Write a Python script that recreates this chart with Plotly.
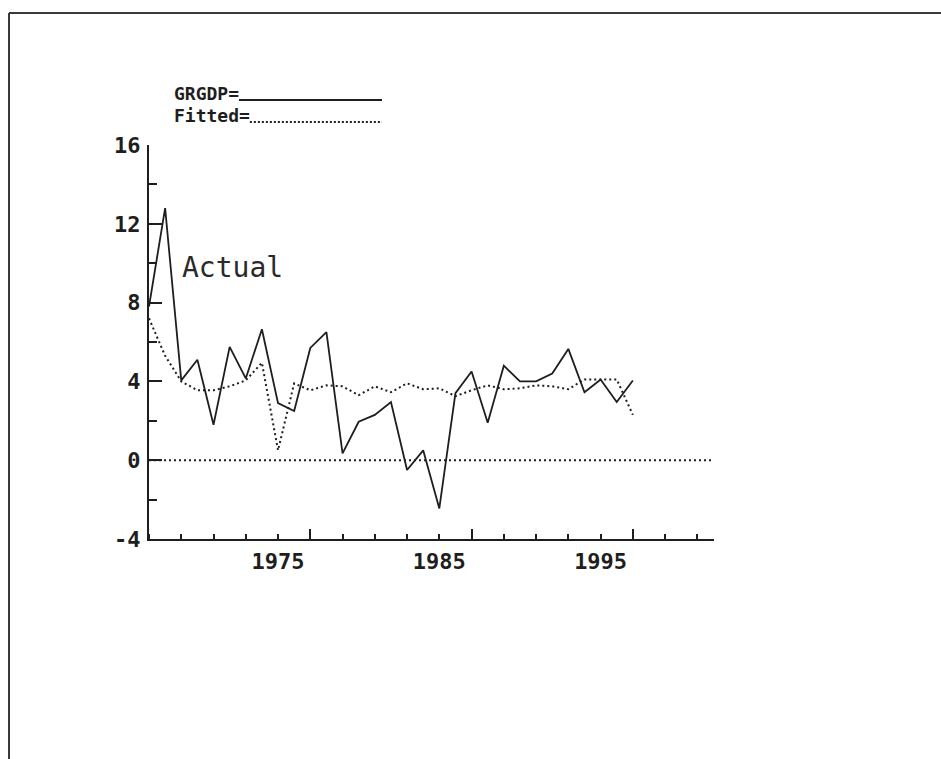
import plotly.graph_objects as go

# Annual observations
years = list(range(1967, 1998))

# GRGDP: actual real GDP growth (%)
grgdp = [7.8, 12.8, 4.05, 5.1, 1.8, 5.75, 4.15, 6.65, 2.9, 2.5,
         5.7, 6.5, 0.35, 1.95, 2.3, 2.95, -0.5, 0.5, -2.45, 3.4,
         4.5, 1.9, 4.8, 4.0, 4.0, 4.4, 5.65, 3.45, 4.1, 2.95, 4.05]

# Fitted values from the estimated equation
fitted = [7.2, 5.3, 4.0, 3.55, 3.55, 3.75, 4.05, 4.95, 0.5, 3.9,
          3.55, 3.8, 3.75, 3.3, 3.75, 3.45, 3.9, 3.6, 3.65, 3.25,
          3.55, 3.8, 3.6, 3.65, 3.8, 3.75, 3.6, 4.1, 4.1, 4.1, 2.3]

x_labels = [1975, 1985, 1995]
x_major = [1977, 1987, 1997]
x_range = [1967, 2002.03]
y_ticks = [-4, 0, 4, 8, 12, 16]
y_ticktext = ["-4", "0", "4", "8", "12", "16"]
y_range = [-4, 16]

INK = "#1e1e1e"
MONO = "DejaVu Sans Mono"

# page geometry (pixels) of the plotting area
W_PAGE, H_PAGE = 941, 759
L, R, T, B = 149, 714, 145, 539


def px(x):
    return (x - L) / (R - L)


def py(y):
    return (B - y) / (B - T)


fig = go.Figure()

fig.add_trace(go.Scatter(
    x=years, y=grgdp, mode="lines", name="GRGDP",
    line=dict(color=INK, width=1.8), hoverinfo="skip",
))
fig.add_trace(go.Scatter(
    x=years, y=fitted, mode="lines", name="Fitted",
    line=dict(color=INK, width=2, dash="2px,3px"), hoverinfo="skip",
))
# dotted zero reference line across the full axis
fig.add_trace(go.Scatter(
    x=x_range, y=[0, 0], mode="lines", xaxis="x2",
    line=dict(color=INK, width=2, dash="2px,3px"), hoverinfo="skip",
))

KEY_FONT = dict(family=MONO, size=18, color=INK, weight="bold")
KEY_LEFT = 172
CHAR_W = 0.602 * KEY_FONT["size"]

shapes = [
    # outer frame: top and left edges
    dict(type="line", xref="paper", yref="paper",
         x0=px(9), x1=px(W_PAGE + 5), y0=py(13), y1=py(13),
         line=dict(color="#3a3a3a", width=2)),
    dict(type="line", xref="paper", yref="paper",
         x0=px(9), x1=px(9), y0=py(13), y1=py(H_PAGE + 5),
         line=dict(color="#3a3a3a", width=2)),
    # key lines, starting right after each key text
    dict(type="line", xref="paper", yref="paper",
         x0=px(KEY_LEFT + 6 * CHAR_W + 2), x1=px(382), y0=py(100), y1=py(100),
         line=dict(color=INK, width=1.8)),
    dict(type="line", xref="paper", yref="paper",
         x0=px(KEY_LEFT + 7 * CHAR_W + 2), x1=px(382), y0=py(122), y1=py(122),
         line=dict(color=INK, width=2, dash="2px,2px")),
]

annotations = [
    dict(text="GRGDP=", xref="paper", yref="paper", x=px(KEY_LEFT), y=py(93),
         xanchor="left", yanchor="middle", showarrow=False, font=KEY_FONT),
    dict(text="Fitted=", xref="paper", yref="paper", x=px(KEY_LEFT), y=py(115),
         xanchor="left", yanchor="middle", showarrow=False, font=KEY_FONT),
    dict(text="Actual", xref="x", yref="y", x=1968.95, y=9.8,
         xanchor="left", yanchor="middle", showarrow=False,
         font=dict(family=MONO, size=28, color="#2a2a2a")),
]

TICK_FONT = dict(family=MONO, size=22, color=INK, weight="bold")

fig.update_layout(
    width=W_PAGE, height=H_PAGE,
    margin=dict(l=L, r=W_PAGE - R, t=T, b=H_PAGE - B, pad=0),
    paper_bgcolor="white", plot_bgcolor="white",
    showlegend=False,
    shapes=shapes, annotations=annotations,
    xaxis=dict(
        range=x_range, tickmode="array", tickvals=x_labels,
        ticks="", showline=True, linecolor=INK, linewidth=2,
        showgrid=False, zeroline=False, fixedrange=True,
        tickfont=TICK_FONT, ticklabelstandoff=2,
        minor=dict(tick0=1967, dtick=2, ticks="inside", ticklen=5,
                   tickwidth=2, tickcolor=INK, showgrid=False),
    ),
    xaxis2=dict(
        range=x_range, overlaying="x", anchor="y", side="bottom",
        tickmode="array", tickvals=x_major, ticks="inside", ticklen=10,
        tickwidth=2, tickcolor=INK, showticklabels=False,
        showline=False, showgrid=False, zeroline=False, fixedrange=True,
    ),
    yaxis=dict(
        range=y_range, tickmode="array", tickvals=y_ticks,
        ticktext=y_ticktext, ticks="inside", ticklen=13,
        tickwidth=2, tickcolor=INK, showline=True, linecolor=INK,
        linewidth=2, showgrid=False, zeroline=False, fixedrange=True,
        tickfont=TICK_FONT, ticklabelstandoff=2,
        minor=dict(tick0=0, dtick=2, ticks="inside", ticklen=8,
                   tickwidth=2, tickcolor=INK, showgrid=False),
    ),
)

fig.write_html("out.html", config={"displayModeBar": False, "staticPlot": True})
